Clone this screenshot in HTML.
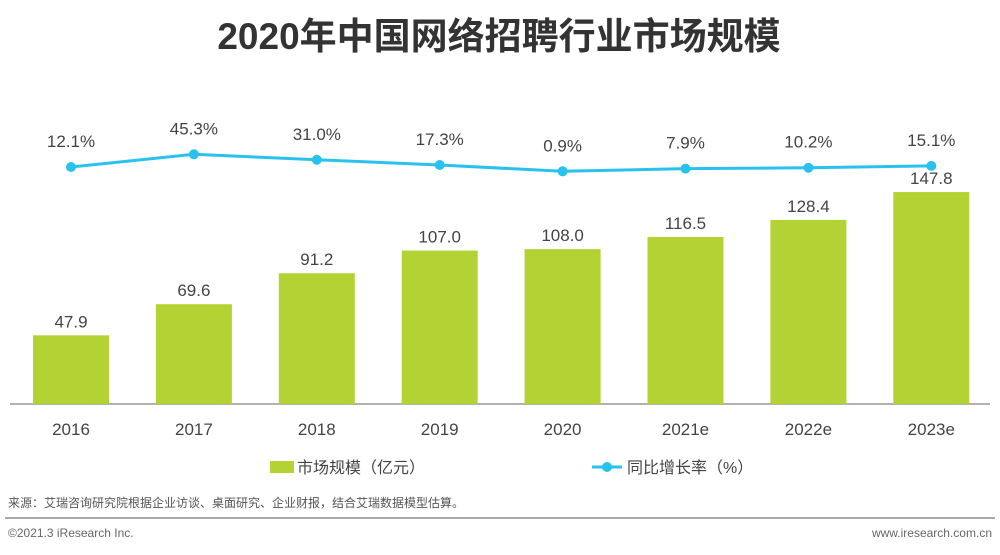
<!DOCTYPE html>
<html><head><meta charset="utf-8"><style>
body{margin:0;background:#fff;}
svg text{font-family:"Liberation Sans","Noto Sans CJK SC",sans-serif;}
</style></head><body>
<svg id="c" width="1000" height="550" xmlns="http://www.w3.org/2000/svg">
<text x="499" y="49" text-anchor="middle" font-size="37" font-weight="bold" fill="#333">2020年中国网络招聘行业市场规模</text>
<line x1="10" y1="404" x2="990" y2="404" stroke="#999" stroke-width="1.5"/>
<g id="bars"></g><g id="line"></g>
<rect x="270" y="461" width="24" height="12" fill="#b3d335"/>
<text x="297" y="473" font-size="16" fill="#444">市场规模（亿元）</text>
<line x1="592" y1="467" x2="622" y2="467" stroke="#29c2ee" stroke-width="3"/>
<circle cx="607" cy="467" r="5" fill="#29c2ee"/>
<text x="627" y="473" font-size="16" fill="#444">同比增长率（%）</text>
<text x="8" y="507" font-size="12" fill="#555">来源：艾瑞咨询研究院根据企业访谈、桌面研究、企业财报，结合艾瑞数据模型估算。</text>
<line x1="5" y1="518" x2="995" y2="518" stroke="#aaa" stroke-width="2"/>
<text x="8" y="537" font-size="12" fill="#666">©2021.3 iResearch Inc.</text>
<text x="992" y="537" font-size="12" fill="#666" text-anchor="end">www.iresearch.com.cn</text>
</svg>
<script>
const categories=["2016","2017","2018","2019","2020","2021e","2022e","2023e"];
const marketSize=[47.9,69.6,91.2,107.0,108.0,116.5,128.4,147.8];
const growthRate=[12.1,45.3,31.0,17.3,0.9,7.9,10.2,15.1];
const NS="http://www.w3.org/2000/svg";
const xC=i=>71+i*122.9;
const yB=v=>404-v*1.434;
const yL=v=>171.3-(v-0.9)*0.383;
function mk(t,a,p,txt){const e=document.createElementNS(NS,t);for(const k in a)e.setAttribute(k,a[k]);if(txt!==undefined)e.textContent=txt;p.appendChild(e);return e;}
const bg=document.getElementById('bars'),lg=document.getElementById('line');
categories.forEach((c,i)=>{
 const r=mk('rect',{x:xC(i)-38,y:yB(marketSize[i]),width:76,height:404-yB(marketSize[i]),fill:'#b3d335'},bg);
 
 
 const t=mk('text',{x:xC(i),y:yB(marketSize[i])-8,'text-anchor':'middle','font-size':17,fill:'#444'},bg,marketSize[i].toFixed(1));
 
 
 const xl=mk('text',{x:xC(i),y:435,'text-anchor':'middle','font-size':17,fill:'#444'},bg,c);
 
 
});
const pts=growthRate.map((v,i)=>xC(i)+','+yL(v)).join(' ');
const pl=mk('polyline',{points:pts,fill:'none',stroke:'#29c2ee','stroke-width':3},lg);


growthRate.forEach((v,i)=>{
 const c=mk('circle',{cx:xC(i),cy:yL(v),r:5,fill:'#29c2ee'},lg);
 
 
 const t=mk('text',{x:xC(i),y:yL(v)-20,'text-anchor':'middle','font-size':17,fill:'#444'},lg,v.toFixed(1)+'%');
 
 
});
</script>
</body></html>
